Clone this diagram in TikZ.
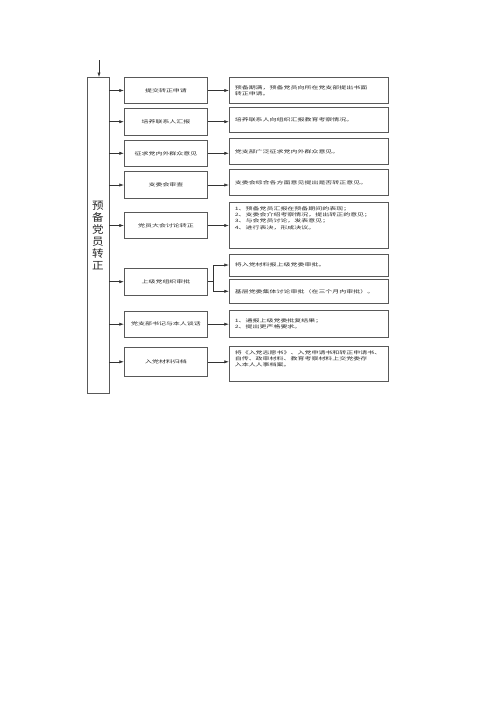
\documentclass[tikz,border=0pt]{standalone}
\usepackage{fontspec}
\usepackage{tikz}
\usetikzlibrary{arrows.meta,positioning}
\newfontfamily\cjk[FakeStretch=1.55]{Noto Sans CJK SC}
\newfontfamily\cjkbig[FakeStretch=1.1]{Noto Sans CJK SC}

\begin{document}
\begin{tikzpicture}[x=1pt,y=-1pt,>={Latex[length=4.5pt,width=3.2pt]},
	line/.style={draw=black!80,line width=0.6pt},
	stagebox/.style={draw=black!65,line width=0.9pt,text=black!85,minimum width=83.4pt,minimum height=26.5pt,inner sep=0pt,font=\cjk\fontsize{4.5}{6.3}\selectfont},
	notebox/.style={draw=black!65,line width=0.9pt,text=black!85,minimum width=159pt,text width=148pt,inner xsep=5.5pt,inner ysep=3pt,align=left,font=\cjk\fontsize{4.5}{6.3}\selectfont}]
	  \useasboundingbox (0,0) rectangle (500,707);
	  \node[draw=black!65,line width=0.9pt,text=black!85,minimum width=22pt,minimum height=316pt,align=center,font=\cjkbig\fontsize{10.5}{12}\selectfont] (main) at (98,235.5) {预\\备\\党\\员\\转\\正};
	  \coordinate (top) at (99,60);
	  \node[stagebox,minimum height=25.6pt] (m1) at (166,90.5) {提交转正申请};
	  \node[stagebox] (m2) at (166,121.7) {培养联系人汇报};
	  \node[stagebox] (m3) at (166,153.3) {征求党内外群众意见};
	  \node[stagebox] (m4) at (166,185) {支委会审查};
	  \node[stagebox,minimum height=25.6pt] (m5) at (166,225.5) {党员大会讨论转正};
	  \node[stagebox] (m6) at (166,281.7) {上级党组织审批};
	  \node[stagebox] (m7) at (166,324.2) {党支部书记与本人谈话};
	  \node[stagebox,minimum height=28.3pt] (m8) at (166,361.8) {入党材料归档};
	  \node[notebox,minimum height=26pt] (r1) at (308.8,90.5) {预备期满，预备党员向所在党支部提出书面\\转正申请。};
	  \node[notebox,minimum height=25.4pt] (r2) at (308.8,120) {培养联系人向组织汇报教育考察情况。};
	  \node[notebox,minimum height=26pt] (r3) at (308.8,151.3) {党支部广泛征求党内外群众意见。};
	  \node[notebox,minimum height=26.4pt] (r4) at (308.8,182.5) {支委会综合各方面意见提出是否转正意见。};
	  \node[notebox,anchor=north,text height=4.7pt,text depth=35.6pt] (r5) at (308.8,202) {1、预备党员汇报在预备期间的表现；\\2、支委会介绍考察情况，提出转正的意见；\\3、与会党员讨论，发表意见；\\4、进行表决，形成决议。};
	  \node[notebox,minimum height=22pt] (r6a) at (308.8,265) {将入党材料报上级党委审批。};
	  \node[notebox,minimum height=24pt] (r6b) at (308.8,291.3) {基层党委集体讨论审批（在三个月内审批）。};
	  \node[notebox,minimum height=26.6pt] (r7) at (308.8,324) {1、通报上级党委批复结果；\\2、提出更严格要求。};
	  \node[notebox,anchor=north,text height=5pt,text depth=24pt] (r8) at (308.8,345.7) {将《入党志愿书》、入党申请书和转正申请书、\\自传、政审材料、教育考察材料上交党委存\\入本人人事档案。};
	  \coordinate[right=5.6pt of m6] (split);
	  \draw[line,->] (top) -- (top |- main.north);
	  \draw[line,->] (main.east |- m1.west) -- (m1.west);
	  \draw[line,->] (main.east |- m2.west) -- (m2.west);
	  \draw[line,->] (main.east |- m3.west) -- (m3.west);
	  \draw[line,->] (main.east |- m4.west) -- (m4.west);
	  \draw[line,->] (main.east |- m5.west) -- (m5.west);
	  \draw[line,->] (main.east |- m6.west) -- (m6.west);
	  \draw[line,->] (main.east |- m7.west) -- (m7.west);
	  \draw[line,->] (main.east |- m8.west) -- (m8.west);
	  \draw[line,->] (m1.east) -- (m1.east -| r1.west);
	  \draw[line,->] (m2.east) -- (m2.east -| r2.west);
	  \draw[line,->] (m3.east) -- (m3.east -| r3.west);
	  \draw[line,->] (m4.east) -- (m4.east -| r4.west);
	  \draw[line,->] (m5.east) -- (m5.east -| r5.west);
	  \draw[line] (m6.east) -- (split);
	  \draw[line,->] (split) |- (r6a.west);
	  \draw[line,->] (split) |- (r6b.west);
	  \draw[line,->] (m7.east) -- (m7.east -| r7.west);
	  \draw[line,->] (m8.east) -- (m8.east -| r8.west);
	\end{tikzpicture}
\end{document}
